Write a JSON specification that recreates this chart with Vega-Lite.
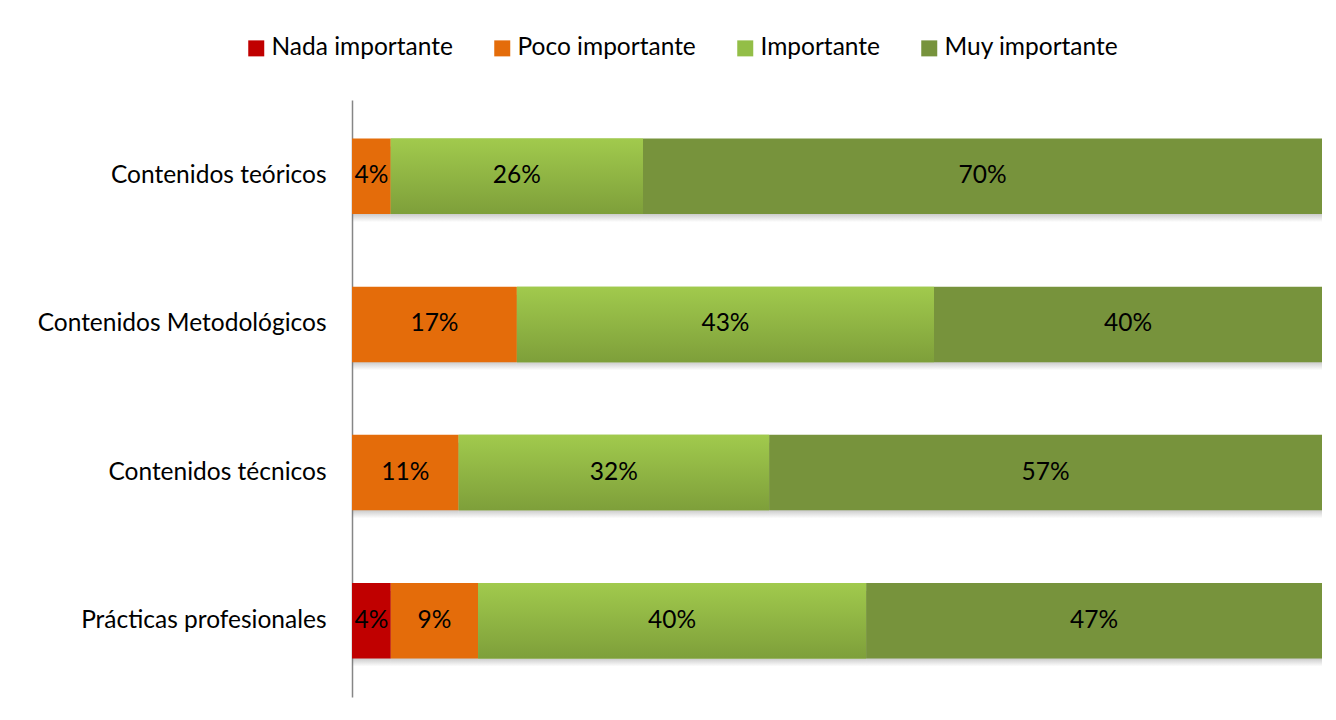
{
  "$schema": "https://vega.github.io/schema/vega-lite/v6.json",
  "width": 970,
  "height": 597,
  "autosize": "none",
  "padding": {"left": 352, "top": 100, "right": 14, "bottom": 23},
  "background": "white",
  "config": {
    "view": {"stroke": null},
    "font": "Lato",
    "text": {"font": "Lato"}
  },
  "data": {
    "values": [
      {"cat": "Contenidos teóricos", "level": "Poco importante", "ord": 2, "pct": 4},
      {"cat": "Contenidos teóricos", "level": "Importante", "ord": 3, "pct": 26},
      {"cat": "Contenidos teóricos", "level": "Muy importante", "ord": 4, "pct": 70},
      {"cat": "Contenidos Metodológicos", "level": "Poco importante", "ord": 2, "pct": 17},
      {"cat": "Contenidos Metodológicos", "level": "Importante", "ord": 3, "pct": 43},
      {"cat": "Contenidos Metodológicos", "level": "Muy importante", "ord": 4, "pct": 40},
      {"cat": "Contenidos técnicos", "level": "Poco importante", "ord": 2, "pct": 11},
      {"cat": "Contenidos técnicos", "level": "Importante", "ord": 3, "pct": 32},
      {"cat": "Contenidos técnicos", "level": "Muy importante", "ord": 4, "pct": 57},
      {"cat": "Prácticas profesionales", "level": "Nada importante", "ord": 1, "pct": 4},
      {"cat": "Prácticas profesionales", "level": "Poco importante", "ord": 2, "pct": 9},
      {"cat": "Prácticas profesionales", "level": "Importante", "ord": 3, "pct": 40},
      {"cat": "Prácticas profesionales", "level": "Muy importante", "ord": 4, "pct": 47}
    ]
  },
  "transform": [
    {"stack": "pct", "groupby": ["cat"], "sort": [{"field": "ord", "order": "ascending"}], "as": ["x0", "x1"]},
    {"calculate": "(datum.x0 + datum.x1) / 2", "as": "xm"},
    {"calculate": "datum.pct + '%'", "as": "lab"}
  ],
  "encoding": {
    "y": {
      "field": "cat",
      "type": "nominal",
      "sort": ["Contenidos teóricos", "Contenidos Metodológicos", "Contenidos técnicos", "Prácticas profesionales"],
      "scale": {"paddingInner": 0.49, "paddingOuter": 0.26},
      "axis": {
        "title": null,
        "ticks": false,
        "domainColor": "#868686",
        "domainWidth": 1.5,
        "labelFont": "Lato",
        "labelFontSize": 24.5,
        "labelColor": "#000000",
        "labelPadding": 26,
        "labelLimit": 400
      }
    }
  },
  "layer": [
    {
      "mark": {
        "type": "bar",
        "yOffset": 8,
        "fill": {
          "gradient": "linear",
          "x1": 0, "y1": 0, "x2": 0, "y2": 1,
          "stops": [
            {"offset": 0, "color": "rgba(110,110,110,0.5)"},
            {"offset": 0.88, "color": "rgba(110,110,110,0.4)"},
            {"offset": 1, "color": "rgba(110,110,110,0)"}
          ]
        }
      },
      "encoding": {
        "x": {"field": "x0", "type": "quantitative", "scale": {"domain": [0, 100], "nice": false}, "axis": null},
        "x2": {"field": "x1"}
      }
    },
    {
      "mark": {"type": "bar", "opacity": 1},
      "encoding": {
        "x": {"field": "x0", "type": "quantitative", "scale": {"domain": [0, 100], "nice": false}, "axis": null},
        "x2": {"field": "x1"},
        "color": {
          "field": "level",
          "type": "nominal",
          "scale": {
            "domain": ["Nada importante", "Poco importante", "Importante", "Muy importante"],
            "range": ["#C00000", "#E46C0A", "#93BE47", "#77933C"]
          },
          "legend": {
            "title": null,
            "orient": "none",
            "direction": "horizontal",
            "legendX": -108,
            "legendY": -64,
            "symbolType": "square",
            "symbolSize": 256,
            "symbolStrokeWidth": 0,
            "symbolOpacity": 1,
            "labelFont": "Lato",
            "labelFontSize": 24.5,
            "labelColor": "#000000",
            "labelOffset": 3,
            "columnPadding": 37,
            "labelLimit": 400
          }
        }
      }
    },
    {
      "transform": [{"filter": "datum.level === 'Importante'"}],
      "mark": {
        "type": "bar",
        "fill": {
          "gradient": "linear",
          "x1": 0, "y1": 0, "x2": 0, "y2": 1,
          "stops": [
            {"offset": 0, "color": "#A1CA4D"},
            {"offset": 1, "color": "#7E9F3A"}
          ]
        }
      },
      "encoding": {
        "x": {"field": "x0", "type": "quantitative", "scale": {"domain": [0, 100], "nice": false}, "axis": null},
        "x2": {"field": "x1"}
      }
    },
    {
      "mark": {"type": "text", "font": "Lato", "fontSize": 24.5, "color": "#000000", "baseline": "middle", "align": "center"},
      "encoding": {
        "x": {"field": "xm", "type": "quantitative", "scale": {"domain": [0, 100], "nice": false}, "axis": null},
        "text": {"field": "lab"}
      }
    }
  ]
}
